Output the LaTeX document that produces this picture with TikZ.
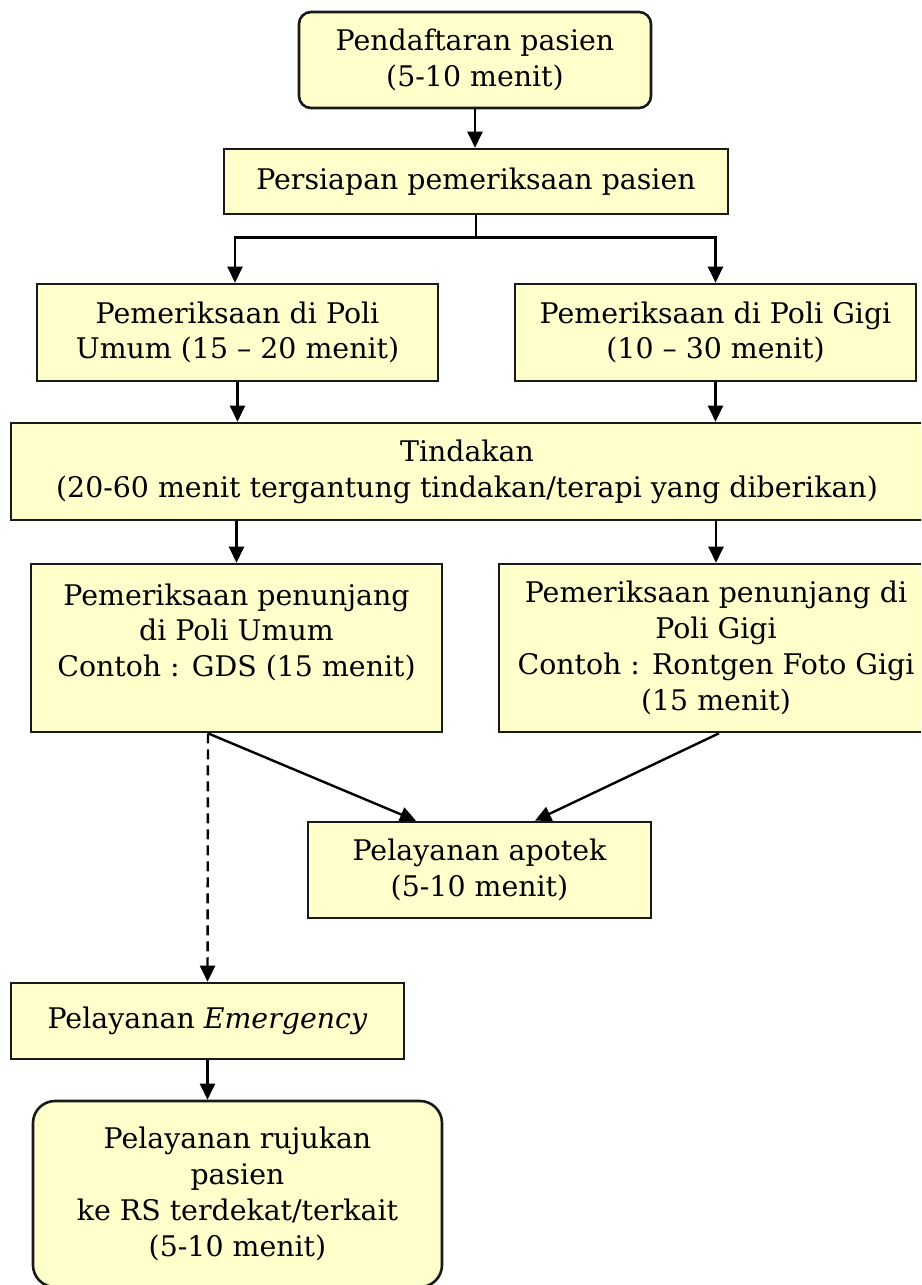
\documentclass[tikz,border=0pt]{standalone}
\usepackage{fontspec}
\setmainfont{DejaVu Serif}
\usetikzlibrary{arrows.meta}
\definecolor{boxfill}{HTML}{FFFFCC}
\begin{document}
\begin{tikzpicture}[x=1pt,y=-1pt,
  box/.style={draw=black!90, line width=2.6pt, fill=boxfill, inner sep=0pt, align=center, font=\fontsize{28.4}{35.8}\selectfont},
  rbox/.style={box, rounded corners=12pt},
  arr/.style={line width=2.4pt, -{Triangle[length=16pt,width=15pt]}},
  plain/.style={line width=2.4pt},
]
\useasboundingbox (0,0) rectangle (921,1285);
\begin{scope}
\clip (0,0) rectangle (921,1285);
\node[rbox, minimum width=352pt, minimum height=96pt] (b1) at (475,60) {Pendaftaran pasien\\(5-10 menit)};
\node[box, minimum width=504pt, minimum height=65pt] (b2) at (476,181.5) {Persiapan pemeriksaan pasien};
\node[box, minimum width=401pt, minimum height=97pt] (b3l) at (237.5,332.5) {Pemeriksaan di Poli\\Umum (15 – 20 menit)};
\node[box, minimum width=401pt, minimum height=97pt] (b3r) at (715.5,332.5) {Pemeriksaan di Poli Gigi\\(10 – 30 menit)};
\node[box, minimum width=912pt, minimum height=97pt] (b4) at (467,471.5) {Tindakan\\(20-60 menit tergantung tindakan/terapi yang diberikan)};
\node[box, minimum width=411pt, minimum height=168pt] (b5l) at (236.5,648) {Pemeriksaan penunjang\\di Poli Umum\\Contoh : GDS (15 menit)\\\mbox{}};
\node[box, minimum width=434pt, minimum height=168pt] (b5r) at (716,648) {Pemeriksaan penunjang di\\Poli Gigi\\Contoh : Rontgen Foto Gigi\\(15 menit)};
\node[box, minimum width=343pt, minimum height=96pt] (b6) at (479.5,870) {Pelayanan apotek\\(5-10 menit)};
\node[box, minimum width=393pt, minimum height=76pt] (b7) at (207.5,1021) {Pelayanan \textit{Emergency}};
\node[box, rounded corners=22pt, minimum width=409pt, minimum height=186pt] (b8) at (237.5,1194) {Pelayanan rujukan\\pasien\\ke RS terdekat/terkait\\(5-10 menit)};

\draw[arr] (b1.south) -- (b1.south |- b2.north);
\draw[plain] (b2.south) -- ++(0,22) coordinate (sp);
\draw[arr] (sp) -| ([xshift=-2.5pt]b3l.north);
\draw[arr] (sp) -| (b3r.north);
\draw[arr] (b3l.south) -- (b3l.south |- b4.north);
\draw[arr] (b3r.south) -- (b3r.south |- b4.north);
\draw[arr] (b5l.north |- b4.south) -- (b5l.north);
\draw[arr] (b5r.north |- b4.south) -- (b5r.north);
\draw[arr] ([xshift=-28.5pt]b5l.south) -- ([xshift=-63.5pt]b6.north);
\draw[arr] ([xshift=3pt]b5r.south) -- ([xshift=55.5pt]b6.north);
\draw[arr, dash pattern=on 10pt off 6pt] ([xshift=-28.5pt]b5l.south) -- (b7.north);
\draw[arr] (b7.south) -- (b7.south |- b8.north);
\end{scope}
\end{tikzpicture}
\end{document}
